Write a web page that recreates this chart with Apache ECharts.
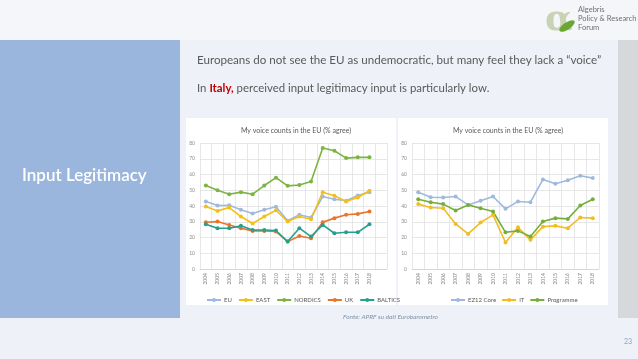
<!DOCTYPE html>
<html><head><meta charset="utf-8">
<script src="https://cdn.jsdelivr.net/npm/echarts@6/dist/echarts.min.js"></script>
<style>html,body{margin:0;padding:0;background:#eef2f8;}#c{width:638px;height:359px;}</style>
</head><body><div id="c"></div>
<script>
// ---- data ----
const years = ['2004','2005','2006','2007','2008','2009','2010','2011','2012','2013','2014','2015','2016','2017','2018'];
const leftCats = years.concat(['']);
const euVals      = [42.9,40.3,40.5,37.6,35.2,37.6,39.5,30.6,34.4,32.7,46.0,44.3,43.3,46.7,48.8];
const eastVals    = [39.7,36.9,39.0,33.3,28.9,33.3,37.3,30.1,33.3,31.6,48.8,46.5,42.9,45.4,49.7];
const nordicVals  = [53.0,50.0,47.5,48.8,47.5,53.0,58.0,52.8,53.3,55.6,76.8,75.1,70.4,70.9,70.9];
const ukVals      = [29.7,30.1,28.0,25.9,24.2,24.2,23.8,17.4,21.0,19.5,29.7,32.3,34.4,35.0,36.5];
const balticVals  = [28.4,25.9,25.9,27.4,24.8,24.8,24.4,17.4,25.9,20.6,28.0,22.7,23.3,23.3,28.4];
const ezVals      = [48.8,45.6,45.4,46.0,40.7,43.3,46.0,38.2,42.9,42.4,56.9,54.1,56.4,59.2,57.7];
const itVals      = [41.2,39.0,38.6,28.6,22.3,29.5,34.4,16.8,26.5,18.5,26.9,27.4,25.9,32.7,32.3];
const progVals    = [44.3,42.4,41.2,37.1,40.7,38.6,36.5,23.3,24.2,20.6,30.1,32.3,31.8,40.3,44.3];
const yTicks = {min:0, max:80, interval:10};
const chartTitle = 'My voice counts in the EU (% agree)';

const FONT = 'Lato, "Liberation Sans", sans-serif';
const chart = echarts.init(document.getElementById('c'), null, {renderer:'canvas'});

function yAxis(gi){
  return {type:'value', gridIndex:gi, min:yTicks.min, max:yTicks.max, interval:yTicks.interval,
    axisLine:{show:false}, axisTick:{show:false},
    axisLabel:{fontSize:5, color:'#8c8c8c', fontFamily:FONT, margin:5},
    splitLine:{lineStyle:{color:'#dcdcdc', width:0.7}}};
}
function xAxis(gi, cats){
  return {type:'category', gridIndex:gi, data:cats, boundaryGap:true,
    axisLine:{lineStyle:{color:'#d0d0d0', width:0.7}}, axisTick:{show:false},
    axisLabel:{fontSize:5, color:'#7f7f7f', rotate:90, interval:0, margin:4, fontFamily:FONT},
    splitLine:{show:true, interval:0, lineStyle:{color:'#dcdcdc', width:0.7}}};
}
function line(name, data, color, gi){
  return {name, type:'line', xAxisIndex:gi, yAxisIndex:gi, data,
    symbol:'circle', symbolSize:4, showSymbol:true,
    lineStyle:{color, width:1.6}, itemStyle:{color}, emphasis:{disabled:true}};
}
const cEU='#9fb9de', cEAST='#f5bf1a', cNOR='#7cb342', cUK='#e8742e', cBAL='#25a090';
const cEZ='#9fb9de', cIT='#f2bd22', cPR='#76ae3a';

chart.setOption({
  animation:false,
  backgroundColor:'#eef2f8',
  graphic:[
    {type:'rect', shape:{x:0,y:0,width:638,height:40}, style:{fill:'#f5f6f9'}, z:-10},
    {type:'rect', shape:{x:0,y:40,width:180,height:278}, style:{fill:'#9bb6dd'}, z:-10},
    {type:'rect', shape:{x:618,y:40,width:20,height:278}, style:{fill:'#d6d8dc'}, z:-10},
    {type:'rect', shape:{x:186,y:118,width:210,height:187}, style:{fill:'#ffffff'}, z:-10},
    {type:'rect', shape:{x:398,y:118,width:210,height:187}, style:{fill:'#ffffff'}, z:-10},
    {type:'text', x:22, y:176, style:{text:'Input Legitimacy', fill:'#ffffff', font:'600 17px '+FONT, textVerticalAlign:'middle'}},
    {type:'text', x:197, y:60, style:{text:'Europeans do not see the EU as undemocratic, but many feel they lack a \u201cvoice\u201d', fill:'#595959', font:'11.6px '+FONT, textVerticalAlign:'middle'}},
    {type:'text', x:197, y:88, style:{rich:{a:{fill:'#595959', font:'11.4px '+FONT}, b:{fill:'#c00000', font:'bold 11.4px '+FONT}}, text:'{a|In }{b|Italy,}{a| perceived input legitimacy input is particularly low.}', textVerticalAlign:'middle'}},
    {type:'text', x:343, y:317, style:{text:'Fonte: APRF su dati Eurobarometro', fill:'#7f8fa8', font:'italic 6.5px '+FONT, textVerticalAlign:'middle'}},
    {type:'text', x:628, y:342, style:{text:'23', fill:'#8aa3c8', font:'7px '+FONT, textAlign:'center', textVerticalAlign:'middle'}},
    {type:'text', x:545, y:21, style:{text:'\u03b1', fill:'#c9d3b4', font:'bold 36px "DejaVu Serif", serif', textVerticalAlign:'middle'}},
    {type:'ellipse', shape:{cx:567, cy:26, rx:9, ry:3.5}, rotation:0.6, originX:567, originY:26, style:{fill:'#6aa634'}},
    {type:'text', x:578, y:10, style:{text:'Algebris', fill:'#707070', font:'7.5px '+FONT, textVerticalAlign:'middle'}},
    {type:'text', x:578, y:19, style:{text:'Policy & Research', fill:'#707070', font:'7.5px '+FONT, textVerticalAlign:'middle'}},
    {type:'text', x:578, y:28, style:{text:'Forum', fill:'#707070', font:'7.5px '+FONT, textVerticalAlign:'middle'}}
  ],
  title:[
    {text:chartTitle, left:291, top:122, textAlign:'center', textStyle:{fontSize:7, fontWeight:'normal', color:'#595959', fontFamily:FONT}},
    {text:chartTitle, left:503, top:122, textAlign:'center', textStyle:{fontSize:7, fontWeight:'normal', color:'#595959', fontFamily:FONT}}
  ],
  legend:[
    {data:['EU','EAST','NORDICS','UK','BALTICS'], left:201, top:292, itemWidth:14, itemHeight:5, itemGap:6,
     textStyle:{fontSize:6, color:'#595959', fontFamily:FONT, padding:[0,0,0,-2]}},
    {data:['EZ12 Core','IT','Programme'], left:445, top:292, itemWidth:14, itemHeight:5, itemGap:5,
     textStyle:{fontSize:6, color:'#595959', fontFamily:FONT, padding:[0,0,0,-2]}}
  ],
  grid:[
    {left:200, top:143, width:187, height:126},
    {left:412, top:143, width:187, height:126}
  ],
  xAxis:[xAxis(0, leftCats), xAxis(1, years)],
  yAxis:[yAxis(0), yAxis(1)],
  series:[
    line('EU', euVals, cEU, 0),
    line('EAST', eastVals, cEAST, 0),
    line('NORDICS', nordicVals, cNOR, 0),
    line('UK', ukVals, cUK, 0),
    line('BALTICS', balticVals, cBAL, 0),
    line('EZ12 Core', ezVals, cEZ, 1),
    line('IT', itVals, cIT, 1),
    line('Programme', progVals, cPR, 1)
  ]
});
</script></body></html>
